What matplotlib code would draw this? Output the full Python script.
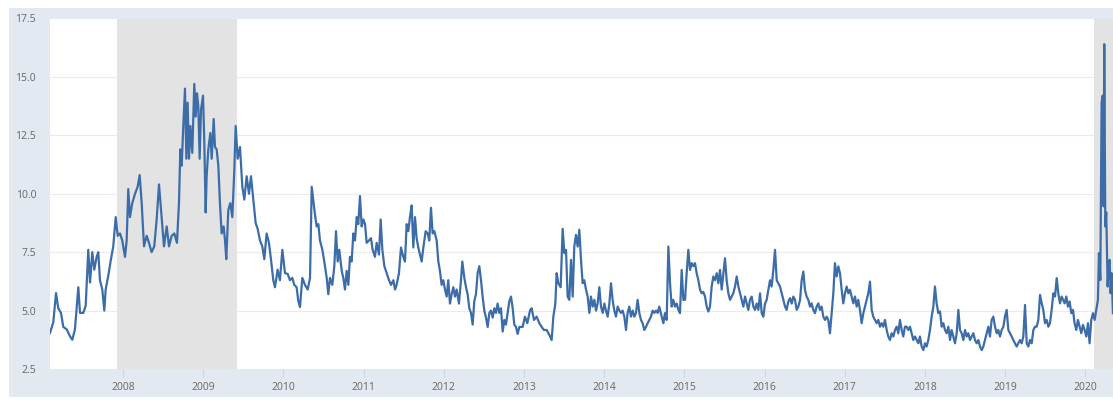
import matplotlib
matplotlib.use("Agg")
import matplotlib.pyplot as plt
from matplotlib.patches import Rectangle
from matplotlib.ticker import FixedLocator, FormatStrFormatter

# weekly series (decimal year, value)
t_2007 = [2007.090, 2007.131, 2007.165, 2007.193, 2007.227, 2007.256, 2007.298, 2007.339,
          2007.368, 2007.401, 2007.443, 2007.464, 2007.505, 2007.535, 2007.567, 2007.589,
          2007.617, 2007.642, 2007.672, 2007.692, 2007.713, 2007.742, 2007.767, 2007.784,
          2007.817, 2007.850, 2007.879, 2007.909, 2007.934, 2007.963, 2007.991]
v_2007 = [4.04, 4.5, 5.75, 5.1, 4.9, 4.3, 4.2, 3.9,
          3.75, 4.2, 6.0, 4.9, 4.9, 5.2, 7.6, 6.2,
          7.5, 6.75, 7.3, 7.5, 6.3, 5.9, 5.0, 5.9,
          6.5, 7.2, 7.75, 9.0, 8.2, 8.3, 8.0]

t_2008 = [2008.025, 2008.046, 2008.066, 2008.087, 2008.116, 2008.150, 2008.183, 2008.208,
          2008.233, 2008.262, 2008.295, 2008.324, 2008.357, 2008.390, 2008.420, 2008.449,
          2008.482, 2008.511, 2008.545, 2008.574, 2008.607, 2008.640, 2008.673, 2008.698,
          2008.715, 2008.732, 2008.752, 2008.773, 2008.790, 2008.806, 2008.823, 2008.840,
          2008.864, 2008.889, 2008.906, 2008.923, 2008.939, 2008.956, 2008.973, 2008.998]
v_2008 = [7.3, 8.0, 10.2, 9.0, 9.6, 10.0, 10.3, 10.8,
          9.6, 7.75, 8.2, 7.9, 7.5, 7.75, 8.9, 10.4,
          9.0, 7.75, 8.6, 7.75, 8.2, 8.3, 7.9, 9.6,
          11.9, 11.2, 12.9, 14.5, 11.5, 13.9, 11.5, 12.9,
          11.75, 14.7, 13.3, 14.3, 13.75, 11.5, 13.6, 14.2]

t_2009 = [2009.014, 2009.031, 2009.043, 2009.064, 2009.089, 2009.106, 2009.131, 2009.147,
          2009.168, 2009.189, 2009.209, 2009.230, 2009.255, 2009.272, 2009.288, 2009.313,
          2009.338, 2009.363, 2009.388, 2009.405, 2009.430, 2009.459, 2009.488, 2009.513,
          2009.542, 2009.571, 2009.596, 2009.625, 2009.654, 2009.679, 2009.708, 2009.737,
          2009.762, 2009.791, 2009.820, 2009.845, 2009.874, 2009.895, 2009.928, 2009.957,
          2009.987]
v_2009 = [12.2, 9.2, 10.75, 11.9, 12.6, 11.5, 13.2, 12.0,
          11.9, 11.2, 9.6, 8.3, 8.6, 8.0, 7.2, 9.3,
          9.6, 9.0, 11.0, 12.9, 11.5, 12.0, 10.3, 9.75,
          10.75, 10.0, 10.75, 9.75, 8.75, 8.5, 8.0, 7.75,
          7.2, 8.3, 7.9, 7.2, 6.3, 6.0, 6.75, 6.3,
          7.6]

t_2010 = [2010.020, 2010.053, 2010.082, 2010.111, 2010.136, 2010.165, 2010.186, 2010.207,
          2010.236, 2010.269, 2010.303, 2010.332, 2010.353, 2010.373, 2010.394, 2010.415,
          2010.436, 2010.456, 2010.486, 2010.510, 2010.540, 2010.560, 2010.581, 2010.610,
          2010.635, 2010.656, 2010.677, 2010.697, 2010.727, 2010.747, 2010.768, 2010.789,
          2010.810, 2010.830, 2010.851, 2010.872, 2010.893, 2010.914, 2010.934, 2010.955,
          2010.976, 2010.997]
v_2010 = [6.6, 6.57, 6.3, 6.4, 6.1, 6.0, 5.4, 5.15,
          6.4, 6.1, 5.9, 6.4, 10.3, 9.7, 9.1, 8.6,
          8.7, 8.0, 7.6, 7.1, 6.4, 5.7, 6.4, 6.1,
          6.9, 8.4, 7.1, 7.6, 6.7, 6.4, 5.9, 6.7,
          6.1, 7.3, 7.1, 8.3, 8.0, 9.0, 8.7, 9.9,
          8.6, 8.9]

t_2011 = [2011.018, 2011.038, 2011.067, 2011.092, 2011.113, 2011.142, 2011.163, 2011.192,
          2011.213, 2011.234, 2011.259, 2011.288, 2011.317, 2011.342, 2011.371, 2011.392,
          2011.412, 2011.441, 2011.466, 2011.495, 2011.516, 2011.537, 2011.558, 2011.578,
          2011.599, 2011.620, 2011.641, 2011.661, 2011.682, 2011.703, 2011.724, 2011.745,
          2011.774, 2011.799, 2011.819, 2011.840, 2011.861, 2011.882, 2011.911, 2011.932,
          2011.952, 2011.973, 2011.994]
v_2011 = [8.7, 7.9, 8.0, 8.1, 7.6, 7.3, 7.9, 7.4,
          8.9, 7.6, 6.9, 6.6, 6.3, 6.1, 6.3, 5.9,
          6.1, 6.6, 7.7, 7.3, 7.1, 8.7, 8.4, 9.0,
          9.5, 7.7, 9.0, 8.1, 7.7, 7.4, 7.1, 7.7,
          8.4, 8.3, 8.0, 9.4, 8.3, 8.4, 8.0, 7.1,
          6.7, 6.1, 6.3]

t_2012 = [2012.015, 2012.036, 2012.056, 2012.077, 2012.098, 2012.119, 2012.140, 2012.160,
          2012.189, 2012.214, 2012.231, 2012.256, 2012.277, 2012.297, 2012.318, 2012.339,
          2012.360, 2012.380, 2012.401, 2012.422, 2012.443, 2012.464, 2012.484, 2012.505,
          2012.526, 2012.547, 2012.568, 2012.588, 2012.609, 2012.630, 2012.651, 2012.671,
          2012.692, 2012.713, 2012.734, 2012.755, 2012.775, 2012.796, 2012.817, 2012.838,
          2012.859, 2012.879, 2012.900, 2012.921, 2012.942, 2012.983]
v_2012 = [5.9, 5.6, 6.3, 5.3, 5.7, 6.0, 5.6, 5.9,
          5.3, 6.3, 7.1, 6.4, 6.0, 5.7, 5.1, 4.9,
          4.4, 5.4, 5.7, 6.6, 6.9, 6.3, 5.6, 5.0,
          4.7, 4.3, 4.9, 5.0, 4.7, 5.1, 4.9, 5.3,
          4.9, 5.1, 4.1, 4.6, 4.4, 4.9, 5.4, 5.6,
          5.1, 4.4, 4.3, 4.0, 4.3, 4.3]

t_2013 = [2013.012, 2013.041, 2013.075, 2013.095, 2013.125, 2013.158, 2013.191, 2013.220,
          2013.249, 2013.283, 2013.316, 2013.345, 2013.366, 2013.391, 2013.407, 2013.428,
          2013.457, 2013.482, 2013.503, 2013.524, 2013.544, 2013.565, 2013.586, 2013.607,
          2013.627, 2013.648, 2013.669, 2013.690, 2013.711, 2013.731, 2013.752, 2013.773,
          2013.794, 2013.815, 2013.835, 2013.856, 2013.877, 2013.898, 2013.918, 2013.939,
          2013.960, 2013.981]
v_2013 = [4.74, 4.46, 5.0, 5.1, 4.6, 4.74, 4.46, 4.3,
          4.17, 4.17, 3.96, 3.74, 4.74, 5.3, 6.6, 6.17,
          6.0, 8.5, 7.46, 7.6, 5.6, 5.46, 7.17, 5.6,
          7.74, 8.24, 7.74, 8.46, 7.17, 6.17, 6.3, 5.9,
          5.6, 4.9, 5.6, 5.17, 5.46, 5.0, 5.3, 6.0,
          5.17, 4.9]

t_2014 = [2014.002, 2014.022, 2014.043, 2014.064, 2014.085, 2014.105, 2014.126, 2014.147,
          2014.168, 2014.189, 2014.209, 2014.230, 2014.251, 2014.272, 2014.292, 2014.313,
          2014.334, 2014.355, 2014.376, 2014.396, 2014.417, 2014.438, 2014.459, 2014.479,
          2014.500, 2014.521, 2014.542, 2014.563, 2014.583, 2014.604, 2014.625, 2014.646,
          2014.667, 2014.687, 2014.717, 2014.738, 2014.758, 2014.779, 2014.800, 2014.821,
          2014.841, 2014.862, 2014.883, 2014.904, 2014.925, 2014.945, 2014.966, 2014.987]
v_2014 = [5.3, 5.0, 4.74, 5.3, 6.17, 5.46, 5.0, 4.74,
          5.17, 5.0, 4.9, 5.0, 4.74, 4.17, 4.9, 5.17,
          4.74, 5.0, 4.74, 4.9, 5.46, 4.9, 4.6, 4.46,
          4.17, 4.3, 4.46, 4.6, 4.74, 5.0, 4.9, 5.0,
          4.9, 5.17, 4.74, 4.46, 4.89, 4.6, 7.74, 6.17,
          5.17, 5.46, 5.17, 5.3, 5.03, 4.89, 6.74, 5.46]

t_2015 = [2015.008, 2015.028, 2015.049, 2015.070, 2015.091, 2015.112, 2015.132, 2015.153,
          2015.174, 2015.195, 2015.216, 2015.236, 2015.257, 2015.278, 2015.299, 2015.319,
          2015.340, 2015.361, 2015.382, 2015.403, 2015.423, 2015.444, 2015.465, 2015.486,
          2015.506, 2015.527, 2015.548, 2015.569, 2015.590, 2015.610, 2015.631, 2015.652,
          2015.673, 2015.694, 2015.714, 2015.735, 2015.756, 2015.777, 2015.797, 2015.818,
          2015.839, 2015.860, 2015.880, 2015.901, 2015.922, 2015.943, 2015.964, 2015.984]
v_2015 = [5.46, 6.6, 7.6, 6.74, 7.03, 6.9, 7.03, 6.6,
          6.3, 5.9, 5.74, 5.8, 5.6, 5.17, 4.96, 5.17,
          6.03, 6.46, 6.3, 6.6, 6.17, 6.74, 5.9, 6.6,
          7.24, 6.3, 5.74, 5.46, 5.6, 5.74, 6.03, 6.46,
          6.03, 5.74, 5.46, 5.17, 5.6, 5.3, 5.03, 5.46,
          5.6, 5.17, 5.03, 5.3, 5.03, 5.74, 4.89, 4.74]

t_2016 = [2016.005, 2016.026, 2016.047, 2016.068, 2016.088, 2016.109, 2016.130, 2016.151,
          2016.171, 2016.192, 2016.213, 2016.234, 2016.255, 2016.275, 2016.296, 2016.317,
          2016.338, 2016.358, 2016.379, 2016.400, 2016.421, 2016.442, 2016.462, 2016.483,
          2016.503, 2016.524, 2016.545, 2016.566, 2016.586, 2016.607, 2016.628, 2016.649,
          2016.670, 2016.690, 2016.711, 2016.732, 2016.753, 2016.774, 2016.794, 2016.815,
          2016.836, 2016.857, 2016.877, 2016.898, 2016.919, 2016.940, 2016.961, 2016.981]
v_2016 = [5.3, 5.46, 5.9, 6.3, 6.03, 6.74, 7.6, 6.3,
          6.17, 6.03, 5.74, 5.46, 5.17, 5.03, 5.39, 5.53,
          5.3, 5.6, 5.46, 5.03, 5.17, 5.46, 6.3, 6.67,
          5.89, 5.6, 5.46, 5.17, 5.31, 5.03, 4.89, 5.17,
          5.31, 5.03, 5.17, 4.74, 4.6, 4.74, 4.6, 4.03,
          4.89, 5.74, 7.03, 6.46, 6.89, 6.6, 5.89, 5.31]

t_2017 = [2017.002, 2017.023, 2017.044, 2017.064, 2017.085, 2017.106, 2017.127, 2017.148,
          2017.168, 2017.189, 2017.210, 2017.231, 2017.251, 2017.272, 2017.293, 2017.314,
          2017.335, 2017.355, 2017.376, 2017.397, 2017.418, 2017.438, 2017.459, 2017.480,
          2017.501, 2017.522, 2017.542, 2017.563, 2017.584, 2017.605, 2017.626, 2017.646,
          2017.667, 2017.688, 2017.709, 2017.729, 2017.750, 2017.771, 2017.792, 2017.813,
          2017.833, 2017.854, 2017.875, 2017.896, 2017.917, 2017.937, 2017.958, 2017.979]
v_2017 = [5.74, 6.03, 5.74, 5.89, 5.6, 5.31, 5.6, 5.17,
          5.46, 5.03, 4.46, 4.89, 5.17, 5.46, 5.74, 6.24,
          5.03, 4.74, 4.6, 4.46, 4.6, 4.31, 4.46, 4.31,
          4.6, 4.17, 3.89, 3.74, 4.03, 3.89, 4.17, 4.31,
          4.03, 4.6, 4.17, 3.89, 4.31, 4.31, 4.17, 4.31,
          4.03, 3.74, 3.89, 3.74, 3.6, 3.89, 3.46, 3.31]

t_2018 = [2018.000, 2018.020, 2018.041, 2018.062, 2018.083, 2018.104, 2018.124, 2018.145,
          2018.166, 2018.187, 2018.208, 2018.229, 2018.249, 2018.270, 2018.291, 2018.312,
          2018.332, 2018.353, 2018.374, 2018.395, 2018.416, 2018.436, 2018.457, 2018.478,
          2018.499, 2018.520, 2018.540, 2018.561, 2018.582, 2018.603, 2018.623, 2018.644,
          2018.665, 2018.686, 2018.707, 2018.727, 2018.748, 2018.769, 2018.790, 2018.810,
          2018.831, 2018.852, 2018.873, 2018.894, 2018.914, 2018.935, 2018.956, 2018.977,
          2018.997]
v_2018 = [3.6, 3.46, 3.74, 4.17, 4.74, 5.17, 6.03, 5.31,
          4.89, 4.96, 4.31, 4.46, 4.17, 4.03, 4.31, 3.74,
          4.17, 3.89, 3.6, 4.03, 5.03, 4.17, 4.03, 3.74,
          4.17, 3.89, 4.03, 3.74, 3.89, 4.03, 3.74, 3.6,
          3.74, 3.46, 3.31, 3.46, 3.74, 4.03, 4.31, 3.89,
          4.6, 4.74, 4.31, 4.03, 4.17, 3.89, 4.17, 4.31,
          4.74]

t_2019 = [2019.018, 2019.039, 2019.060, 2019.081, 2019.101, 2019.122, 2019.143, 2019.164,
          2019.184, 2019.205, 2019.226, 2019.247, 2019.268, 2019.288, 2019.309, 2019.330,
          2019.351, 2019.371, 2019.392, 2019.413, 2019.434, 2019.455, 2019.475, 2019.496,
          2019.517, 2019.538, 2019.558, 2019.579, 2019.600, 2019.621, 2019.642, 2019.662,
          2019.683, 2019.704, 2019.741, 2019.762, 2019.782, 2019.803, 2019.824, 2019.845,
          2019.865, 2019.886, 2019.907, 2019.928, 2019.949, 2019.969, 2019.990]
v_2019 = [5.03, 4.17, 4.03, 3.89, 3.74, 3.6, 3.46, 3.6,
          3.74, 3.6, 3.89, 5.24, 3.6, 3.46, 3.74, 3.6,
          4.17, 4.31, 4.31, 4.6, 5.67, 5.31, 5.03, 4.46,
          4.6, 4.31, 4.46, 5.03, 5.74, 5.6, 6.39, 5.74,
          5.31, 5.6, 5.31, 5.6, 5.17, 5.39, 4.89, 5.03,
          4.46, 4.17, 4.6, 4.31, 4.03, 4.39, 4.17]

t_2020 = [2020.011, 2020.032, 2020.052, 2020.073, 2020.094, 2020.115, 2020.136, 2020.156,
          2020.169, 2020.186, 2020.202, 2020.215, 2020.227, 2020.235, 2020.248, 2020.260,
          2020.277, 2020.289, 2020.302, 2020.314, 2020.327, 2020.343]
v_2020 = [3.89, 4.46, 3.6, 4.6, 4.89, 4.6, 5.03, 5.46,
          7.46, 6.31, 13.9, 14.2, 9.46, 16.4, 8.6, 9.2,
          6.03, 6.89, 7.17, 5.74, 6.6, 4.89]

# recessions (shaded)
rec_start = [2007.92, 2020.11]
rec_end = [2009.42, 2020.40]

years = list(range(2008, 2021))
y_ticks = [2.5, 5.0, 7.5, 10.0, 12.5, 15.0, 17.5]

t = (t_2007 + t_2008 + t_2009 + t_2010 + t_2011 + t_2012 + t_2013 + t_2014
     + t_2015 + t_2016 + t_2017 + t_2018 + t_2019 + t_2020)
v = (v_2007 + v_2008 + v_2009 + v_2010 + v_2011 + v_2012 + v_2013 + v_2014
     + v_2015 + v_2016 + v_2017 + v_2018 + v_2019 + v_2020)

plt.rcParams['font.family'] = ['Open Sans', 'DejaVu Sans']

fig = plt.figure(figsize=(11.13, 4.0), dpi=100)
fig.patch.set_facecolor('white')
# light blue-grey panel behind the chart
panel = Rectangle((9 / 1113, 3 / 400), 1 - 9 / 1113, 389 / 400,
                  transform=fig.transFigure, facecolor='#e2e9f1',
                  edgecolor='none', zorder=-10)
fig.add_artist(panel)

ax = fig.add_axes([50 / 1113, 1 - 369 / 400, 1 - 50 / 1113, 350.5 / 400])
ax.set_zorder(1)
ax.set_facecolor('white')

for s, e in zip(rec_start, rec_end):
    ax.axvspan(s, e, color='#e3e3e3', lw=0, zorder=1)

ax.plot(t, v, color='#3d6da8', lw=1.6, zorder=3)

ax.set_xlim(2007.09, 2020.344)
ax.set_ylim(2.5, 17.5)
ax.xaxis.set_major_locator(FixedLocator(years))
ax.set_xticklabels([str(y) for y in years])
ax.yaxis.set_major_locator(FixedLocator(y_ticks))
ax.yaxis.set_major_formatter(FormatStrFormatter('%.1f'))

ax.grid(axis='y', color='#ebebeb', lw=0.8, zorder=0.5)
ax.set_axisbelow(True)
for sp in ax.spines.values():
    sp.set_visible(False)

ax.tick_params(axis='y', length=0, pad=10, labelsize=7.5, labelcolor='#666666')
ax.tick_params(axis='x', length=6, width=0.8, color='#ccd6eb', pad=3,
               labelsize=7.5, labelcolor='#666666')

fig.savefig('out.png', dpi=100)
